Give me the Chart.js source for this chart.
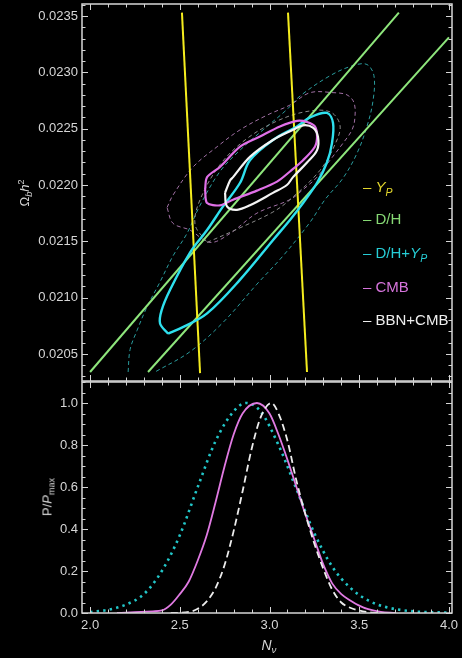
<!DOCTYPE html>
<html>
<head>
<meta charset="utf-8">
<script src="https://cdn.jsdelivr.net/npm/chart.js@4.4.1/dist/chart.umd.min.js"></script>
<style>
  body { margin: 0; background: #000; }
  #wrap { position: relative; width: 462px; height: 658px; background: #000; overflow: hidden;
          font-family: "Liberation Sans", Arial, sans-serif; color: #d6d6d6; }
  canvas { position: absolute; left: 0; }
  .lab { position: absolute; font-size: 13px; white-space: nowrap; }
  .rot { transform: translate(-50%, -50%) rotate(-90deg); }
  .leg { position: absolute; left: 363px; font-size: 15px; line-height: 18px; white-space: nowrap; }
  sub { font-size: 70%; vertical-align: -0.35em; line-height: 0; }
  sup { font-size: 70%; vertical-align: 0.55em; line-height: 0; }
</style>
</head>
<body>
<div id="wrap">
  <canvas id="top" width="462" height="384" style="top:0"></canvas>
  <canvas id="bottom" width="462" height="280" style="top:378px"></canvas>

  <div class="lab rot" style="left:24px;top:193px">Ω<sub><i>b</i></sub><i>h</i><sup>2</sup></div>
  <div class="lab rot" style="left:47px;top:497px">P/<i>P</i><sub>max</sub></div>
  <div class="lab" style="left:269px;top:645px;transform:translate(-50%,-50%);font-size:14px"><i>N</i><sub><i>ν</i></sub></div>

  <div class="leg" style="top:178px;color:#e2d62c">– <i>Y</i><sub><i>P</i></sub></div>
  <div class="leg" style="top:210px;color:#86d874">– D/H</div>
  <div class="leg" style="top:244px;color:#26cdd6">– D/H+<i>Y</i><sub><i>P</i></sub></div>
  <div class="leg" style="top:278px;color:#d674dc">– CMB</div>
  <div class="leg" style="top:311px;color:#eeeeee">– BBN+CMB</div>
</div>

<script>
// axis ranges
const nuMin = 1.955, nuMax = 4.017;
const omegaMin = 0.02026, omegaMax = 0.023607;
const probMin = 0, probMax = 1.1;

// ---- top panel: [N_nu, Omega_b h^2] ----
const ypLeft = [[2.512, 0.02353], [2.613, 0.02033]];
const ypRight = [[3.103, 0.02353], [3.209, 0.02034]];
const dhLeft = [[2.000, 0.02034], [3.721, 0.02353]];
const dhRight = [[2.323, 0.02034], [4.000, 0.02331]];

const dhYp68 = [
  [2.435, 0.02068], [2.390, 0.02077], [2.399, 0.02089], [2.446, 0.02107], [2.557, 0.02140],
  [2.652, 0.02160], [2.741, 0.02181], [2.836, 0.02202], [2.891, 0.02222], [3.019, 0.02240],
  [3.153, 0.02252], [3.226, 0.02260], [3.320, 0.02264], [3.354, 0.02255], [3.348, 0.02237],
  [3.320, 0.02220], [3.265, 0.02202], [3.187, 0.02184], [3.114, 0.02169], [3.019, 0.02151],
  [2.836, 0.02116], [2.652, 0.02086], [2.520, 0.02074], [2.435, 0.02068]
];
const dhYp95 = [
  [2.212, 0.02034], [2.223, 0.02054], [2.262, 0.02071], [2.318, 0.02092], [2.390, 0.02114],
  [2.462, 0.02137], [2.540, 0.02157], [2.613, 0.02182], [2.724, 0.02212], [2.836, 0.02231],
  [2.964, 0.02249], [3.097, 0.02267], [3.170, 0.02279], [3.337, 0.02297], [3.465, 0.02306],
  [3.543, 0.02307], [3.582, 0.02297], [3.577, 0.02275], [3.543, 0.02252], [3.487, 0.02228],
  [3.409, 0.02206], [3.309, 0.02187], [3.226, 0.02167], [3.075, 0.02137], [2.930, 0.02112],
  [2.741, 0.02078], [2.557, 0.02052], [2.362, 0.02034]
];
const cmb68 = [
  [2.641, 0.02196], [2.652, 0.02207], [2.724, 0.02216], [2.836, 0.02234], [2.947, 0.02243],
  [3.058, 0.02252], [3.153, 0.02257], [3.209, 0.02256], [3.253, 0.02252], [3.265, 0.02243],
  [3.253, 0.02234], [3.187, 0.02222], [3.114, 0.02212], [3.042, 0.02203], [2.930, 0.02195],
  [2.797, 0.02187], [2.724, 0.02182], [2.652, 0.02184], [2.641, 0.02196]
];
const cmb95 = [
  [2.429, 0.02180], [2.462, 0.02191], [2.574, 0.02216], [2.708, 0.02234], [2.836, 0.02249],
  [2.986, 0.02262], [3.114, 0.02271], [3.226, 0.02282], [3.354, 0.02282], [3.432, 0.02280],
  [3.471, 0.02273], [3.476, 0.02260], [3.460, 0.02249], [3.409, 0.02237], [3.337, 0.02222],
  [3.265, 0.02207], [3.187, 0.02196], [3.114, 0.02187], [2.930, 0.02175], [2.780, 0.02157],
  [2.669, 0.02149], [2.557, 0.02160], [2.462, 0.02166], [2.429, 0.02180]
];
const bbnCmb68 = [
  [2.752, 0.02193], [2.780, 0.02204], [2.797, 0.02207], [2.891, 0.02225], [3.019, 0.02240],
  [3.131, 0.02249], [3.187, 0.02253], [3.242, 0.02251], [3.270, 0.02243], [3.265, 0.02231],
  [3.209, 0.02220], [3.131, 0.02207], [3.097, 0.02200], [3.019, 0.02193], [2.891, 0.02182],
  [2.819, 0.02178], [2.763, 0.02181], [2.752, 0.02193]
];
const bbnCmb95 = [
  [2.652, 0.02149], [2.836, 0.02162], [3.019, 0.02176], [3.114, 0.02187], [3.281, 0.02213],
  [3.365, 0.02236], [3.393, 0.02253], [3.337, 0.02265], [3.198, 0.02265], [3.031, 0.02256],
  [2.864, 0.02240], [2.724, 0.02218], [2.613, 0.02187], [2.585, 0.02165], [2.652, 0.02149]
];

// ---- bottom panel: P/Pmax vs N_nu ----
const nuDhYp = [2.00, 2.10, 2.20, 2.30, 2.40, 2.50, 2.60, 2.70, 2.80, 2.87, 2.95, 3.05, 3.15, 3.25, 3.35, 3.45, 3.55, 3.65, 3.80, 4.00];
const pDhYp  = [0.005, 0.015, 0.04, 0.09, 0.20, 0.37, 0.60, 0.82, 0.96, 1.00, 0.96, 0.80, 0.59, 0.38, 0.22, 0.12, 0.06, 0.028, 0.008, 0.002];

const nuCmb = [2.15, 2.25, 2.35, 2.40, 2.45, 2.50, 2.55, 2.60, 2.65, 2.70, 2.75, 2.80, 2.85, 2.93, 3.00, 3.05, 3.10, 3.15, 3.20, 3.25, 3.30, 3.35, 3.40, 3.45, 3.50, 3.55, 3.62, 3.70];
const pCmb  = [0.0, 0.004, 0.008, 0.012, 0.04, 0.09, 0.15, 0.25, 0.37, 0.53, 0.70, 0.85, 0.95, 1.00, 0.95, 0.85, 0.73, 0.60, 0.47, 0.35, 0.23, 0.14, 0.09, 0.06, 0.035, 0.018, 0.005, 0.0];

const nuBbnCmb = [2.45, 2.55, 2.60, 2.65, 2.70, 2.75, 2.80, 2.85, 2.90, 2.95, 3.01, 3.05, 3.10, 3.15, 3.20, 3.25, 3.30, 3.35, 3.40, 3.45, 3.52, 3.60];
const pBbnCmb  = [0.0, 0.005, 0.02, 0.055, 0.12, 0.23, 0.39, 0.58, 0.78, 0.93, 1.00, 0.95, 0.82, 0.63, 0.47, 0.33, 0.21, 0.11, 0.05, 0.025, 0.008, 0.0];

const FONT = '"Liberation Sans", Arial, sans-serif';
const TXT = '#d6d6d6';

function mult(v, s) {
  const r = v / s;
  return Math.abs(r - Math.round(r)) < 1e-6;
}

const pairs = arr => arr.map(([x, y]) => ({ x, y }));
const zip = (xs, ys) => xs.map((x, i) => ({ x, y: ys[i] }));

function curve(data, color, width, dash, tension) {
  return {
    data, showLine: true, fill: false,
    borderColor: color, borderWidth: width, borderDash: dash || [],
    pointRadius: 0, tension: tension === undefined ? 0.35 : tension
  };
}

// frame with inward ticks on all four sides
const frameTicks = {
  id: 'frameTicks',
  afterDraw(chart, args, o) {
    const { ctx, chartArea: a } = chart;
    const xs = chart.scales.x, ys = chart.scales.y;
    ctx.save();
    ctx.strokeStyle = TXT;
    ctx.lineWidth = 1;
    ctx.beginPath();
    xs.ticks.forEach(t => {
      const p = Math.round(xs.getPixelForValue(t.value)) + 0.5;
      const l = mult(t.value, o.xMajor) ? 6 : 3.5;
      ctx.moveTo(p, a.bottom); ctx.lineTo(p, a.bottom - l);
      ctx.moveTo(p, a.top); ctx.lineTo(p, a.top + l);
    });
    ys.ticks.forEach(t => {
      const p = Math.round(ys.getPixelForValue(t.value)) + 0.5;
      const l = mult(t.value, o.yMajor) ? 6 : 3.5;
      ctx.moveTo(a.left, p); ctx.lineTo(a.left + l, p);
      ctx.moveTo(a.right, p); ctx.lineTo(a.right - l, p);
    });
    ctx.stroke();
    ctx.lineWidth = 1.5;
    ctx.strokeRect(a.left, a.top, a.right - a.left, a.bottom - a.top);
    ctx.restore();
  }
};

// scale sizes are fixed so the plot areas land where the reference has them
function noPad(s) {
  s.paddingTop = 0; s.paddingBottom = 0; s.paddingLeft = 0; s.paddingRight = 0;
}

function xScale(showLabels, height) {
  return {
    type: 'linear', min: nuMin, max: nuMax,
    grid: { display: false, drawTicks: false }, border: { display: false },
    ticks: {
      stepSize: 0.1, includeBounds: false, autoSkip: false, maxRotation: 0, padding: 5,
      color: TXT, font: { size: 13, family: FONT },
      callback: v => (showLabels && mult(v, 0.5)) ? v.toFixed(1) : ''
    },
    afterFit: s => { s.height = height; noPad(s); }
  };
}

function yScale(min, max, step, major, digits) {
  return {
    type: 'linear', min, max,
    grid: { display: false, drawTicks: false }, border: { display: false },
    ticks: {
      stepSize: step, includeBounds: false, autoSkip: false, padding: 4,
      color: TXT, font: { size: 13, family: FONT },
      callback: v => mult(v, major) ? v.toFixed(digits) : ''
    },
    afterFit: s => { s.width = 82; noPad(s); }
  };
}

const common = {
  responsive: false, animation: false, devicePixelRatio: 1, events: [],
  plugins: { legend: { display: false }, tooltip: { enabled: false } }
};

new Chart(document.getElementById('top'), {
  type: 'scatter',
  data: {
    datasets: [
      curve(pairs(bbnCmb68), '#f4f4f4', 2.2),
      curve(pairs(cmb68), '#e070e8', 2.2, null, 0.3),
      curve(pairs(dhYp68), '#2ee0ee', 2.4),
      curve(pairs(ypLeft), '#f4ec1e', 2, null, 0),
      curve(pairs(ypRight), '#f4ec1e', 2, null, 0),
      curve(pairs(dhLeft), '#8ee67c', 2, null, 0),
      curve(pairs(dhRight), '#8ee67c', 2, null, 0),
      curve(pairs(bbnCmb95), '#8a8a8a', 1, [4, 3]),
      curve(pairs(cmb95), '#a070a4', 1, [4, 3]),
      curve(pairs(dhYp95), '#2a9c9e', 1, [4, 3])
    ]
  },
  options: {
    ...common,
    layout: { padding: { top: 4, right: 10, left: 0, bottom: 0 } },
    scales: {
      x: xScale(false, 3),
      y: yScale(omegaMin, omegaMax, 0.0001, 0.0005, 4)
    },
    plugins: { ...common.plugins, frameTicks: { xMajor: 0.5, yMajor: 0.0005 } }
  },
  plugins: [frameTicks]
});

new Chart(document.getElementById('bottom'), {
  type: 'scatter',
  data: {
    datasets: [
      { ...curve(zip(nuBbnCmb, pBbnCmb), '#ececec', 1.8, [7, 4]), cubicInterpolationMode: 'monotone' },
      { ...curve(zip(nuCmb, pCmb), '#e07ae2', 1.8), cubicInterpolationMode: 'monotone' },
      { ...curve(zip(nuDhYp, pDhYp), '#22c6c8', 2.6, [2.4, 4.2]), cubicInterpolationMode: 'monotone' }
    ]
  },
  options: {
    ...common,
    layout: { padding: { top: 4, right: 10, left: 0, bottom: 0 } },
    scales: {
      x: xScale(true, 45),
      y: yScale(probMin, probMax, 0.05, 0.2, 1)
    },
    plugins: { ...common.plugins, frameTicks: { xMajor: 0.5, yMajor: 0.2 } }
  },
  plugins: [frameTicks]
});
</script>
</body>
</html>
